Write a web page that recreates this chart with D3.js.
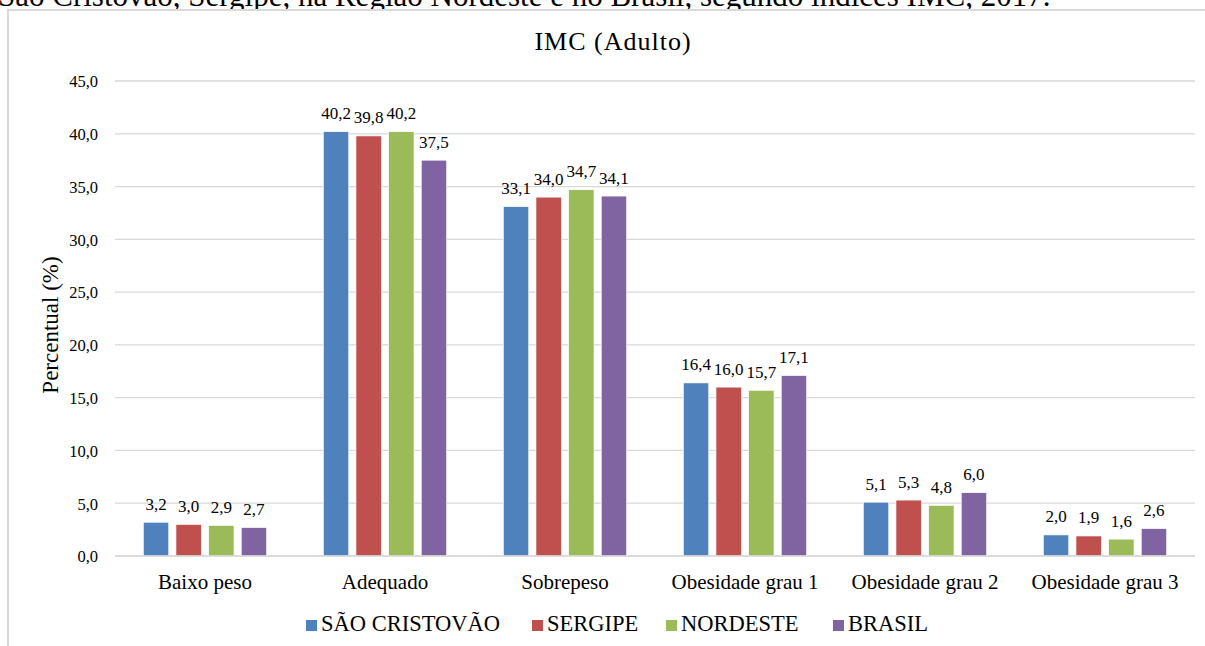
<!DOCTYPE html>
<html><head><meta charset="utf-8">
<script src="https://cdn.jsdelivr.net/npm/d3@7"></script>
<style>
html,body{margin:0;padding:0;background:#fff;overflow:hidden;}
text{font-family:"Liberation Serif","Times New Roman",serif;fill:#000;}
</style></head>
<body>
<svg id="c" width="1205" height="646"></svg>
<script>
const caption = "São Cristovão, Sergipe, na Região Nordeste e no Brasil, segundo índices IMC, 2017.";
const title = "IMC (Adulto)";
const yTitle = "Percentual (%)";
const categories = ["Baixo peso","Adequado","Sobrepeso","Obesidade grau 1","Obesidade grau 2","Obesidade grau 3"];
const seriesNames = ["SÃO CRISTOVÃO","SERGIPE","NORDESTE","BRASIL"];
const saoCristovao = [3.2,40.2,33.1,16.4,5.1,2.0];
const sergipe = [3.0,39.8,34.0,16.0,5.3,1.9];
const nordeste = [2.9,40.2,34.7,15.7,4.8,1.6];
const brasil = [2.7,37.5,34.1,17.1,6.0,2.6];
const yTicks = [0,5,10,15,20,25,30,35,40,45];
const colors = ["#4F81BD","#C0504D","#9BBB59","#8064A2"];
const seriesValues = [saoCristovao, sergipe, nordeste, brasil];

const svg = d3.select("#c");
const fmt = v => d3.format(".1f")(v).replace(".", ",");

// caption (cut off at top, as in the reference)
svg.append("text").attr("x", -2).attr("y", 6).attr("font-size", 31).text(caption);

// chart border
svg.append("rect").attr("x", 8).attr("y", 10).attr("width", 1210).attr("height", 660)
  .attr("fill", "#fff").attr("stroke", "#d9d9d9").attr("stroke-width", 2);

const x0 = d3.scaleBand().domain(categories).range([115, 1195]).padding(0);
const x1 = d3.scaleBand().domain(seriesNames).range([28.3, x0.bandwidth() - 28.3]).paddingInner(0.22).paddingOuter(0);
const y = d3.scaleLinear().domain([0, 45]).range([556, 81]);

// gridlines
svg.append("g").selectAll("line").data(yTicks).join("line")
  .attr("x1", 115).attr("x2", 1195)
  .attr("y1", d => y(d)).attr("y2", d => y(d))
  .attr("stroke", "#d9d9d9").attr("stroke-width", 1.3);

// y axis labels
const yAxis = d3.axisLeft(y).tickValues(yTicks).tickFormat(fmt).tickSize(0).tickPadding(0);
const ga = svg.append("g").attr("transform", "translate(98,0)").call(yAxis);
ga.select(".domain").remove();
ga.selectAll("text").attr("font-size", 16.5).attr("fill", "#000").attr("dy", "0.35em");

// x axis labels
const xAxis = d3.axisBottom(x0).tickSize(0).tickPadding(0);
const gx = svg.append("g").attr("transform", "translate(0,589)").call(xAxis);
gx.select(".domain").remove();
gx.selectAll("text").attr("font-size", 21).attr("fill", "#000").attr("dy", 0);

// bars
const groups = svg.append("g").selectAll("g").data(categories).join("g")
  .attr("transform", d => `translate(${x0(d)},0)`);
const rows = (c, i) => seriesNames.map((s, j) => ({s, v: seriesValues[j][i], j}));
groups.selectAll("rect").data(rows).join("rect")
  .attr("x", d => x1(d.s)).attr("width", x1.bandwidth())
  .attr("y", d => y(d.v)).attr("height", d => y(0) - y(d.v))
  .attr("fill", d => colors[d.j]).attr("stroke", "#fff").attr("stroke-width", 0.7);
groups.selectAll("text").data(rows).join("text")
  .attr("x", d => x1(d.s) + x1.bandwidth() / 2).attr("y", d => y(d.v) - 12.5)
  .attr("text-anchor", "middle").attr("font-size", 17).text(d => fmt(d.v));

// baseline
svg.append("line").attr("x1", 115).attr("x2", 1195).attr("y1", y(0)).attr("y2", y(0))
  .attr("stroke", "#d9d9d9").attr("stroke-width", 1.5);

// title
svg.append("text").attr("x", 613).attr("y", 50).attr("text-anchor", "middle")
  .attr("font-size", 26).attr("letter-spacing", 1).text(title);

// y title
svg.append("text").attr("transform", "translate(58,325) rotate(-90)").attr("text-anchor", "middle")
  .attr("font-size", 23).text(yTitle);

// legend
const legendX = [306, 532, 666, 833];
const lg = svg.append("g").selectAll("g").data(seriesNames).join("g")
  .attr("transform", (d, i) => `translate(${legendX[i]},0)`);
lg.append("rect").attr("x", 0).attr("y", 620).attr("width", 11).attr("height", 11).attr("fill", (d, i) => colors[i]);
lg.append("text").attr("x", 15).attr("y", 631).attr("font-size", 22.5).text(d => d);
</script>
</body></html>
